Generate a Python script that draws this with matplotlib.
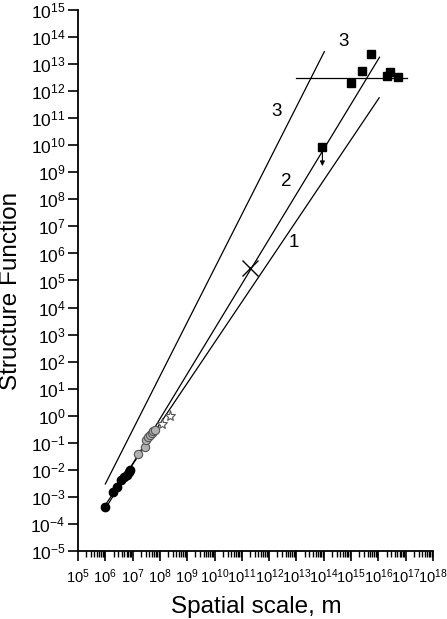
import numpy as np
import matplotlib
matplotlib.use("Agg")
import matplotlib.pyplot as plt
from matplotlib.ticker import LogLocator, NullLocator

plt.rcParams['font.family'] = ['Liberation Sans', 'DejaVu Sans']
plt.rcParams['mathtext.fontset'] = 'custom'
plt.rcParams['mathtext.rm'] = 'Liberation Sans'
plt.rcParams['mathtext.default'] = 'regular'

# data
black_x = [1.0e6, 1.95e6, 2.75e6, 3.6e6, 4.8e6, 6.0e6, 7.4e6, 8.2e6]
black_y = [4.2e-4, 1.5e-3, 2.4e-3, 4.3e-3, 5.6e-3, 6.6e-3, 8.0e-3, 9.5e-3]

grey_x = [1.6e7, 2.8e7, 3.2e7, 3.8e7, 4.3e7, 5.0e7, 5.8e7, 6.6e7]
grey_y = [0.039, 0.072, 0.13, 0.17, 0.2, 0.23, 0.27, 0.3]

star_x = [1.2e8, 2.3e8]
star_y = [0.49, 0.95]

square_x = [8.9e13, 1.02e15, 2.6e15, 5.2e15, 2.1e16, 2.7e16, 5.2e16]
square_y = [9.0e9, 1.95e12, 5.8e12, 2.3e13, 3.6e12, 5.3e12, 3.3e12]

cross_x = [2.0e11]
cross_y = [2.8e5]

# straight lines (end points)
line1_x = [1.0e6, 1.07e16]
line1_y = [5.0e-4, 5.7e11]
line2_x = [1.0e6, 1.1e16]
line2_y = [3.6e-4, 1.8e13]
line3_x = [1.0e6, 1.05e14]
line3_y = [3.0e-3, 2.9e13]
hline_x = [1.0e13, 1.1e17]
hline_y = [3.2e12, 3.2e12]

# curve labels
label_txt = ["3", "3", "2", "1"]
label_x = [5.2e14, 1.8e12, 4.1e12, 7.8e12]
label_y = [6.8e13, 1.7e11, 4.5e8, 2.6e6]

fig = plt.figure(figsize=(4.47, 6.19), dpi=100)
ax = fig.add_axes([0.1745, 0.1099, 0.7942, 0.8739])

ax.plot(line1_x, line1_y, color="black", linewidth=0.9)
ax.plot(line2_x, line2_y, color="black", linewidth=0.9)
ax.plot(line3_x, line3_y, color="black", linewidth=0.9)
ax.plot(hline_x, hline_y, color="black", linewidth=0.9)

ax.plot(black_x, black_y, "o", color="black", markersize=6)
ax.plot(grey_x, grey_y, "o", markerfacecolor="#b0b0b0", markeredgecolor="#555555",
        markersize=6, markeredgewidth=0.8)
ax.plot(star_x, star_y, "*", markerfacecolor="white", markeredgecolor="#555555",
        markersize=8, markeredgewidth=0.8)
ax.plot(square_x, square_y, "s", color="black", markersize=5.5)
ax.plot(cross_x, cross_y, "x", color="black", markersize=11, markeredgewidth=1.0)

# upper limit arrow on the lone square
ax.annotate("", xy=(square_x[0], 1.7e9), xytext=(square_x[0], square_y[0]),
            arrowprops=dict(arrowstyle="-|>", color="black", lw=0.8,
                            mutation_scale=7, shrinkA=0, shrinkB=0))

for t, lx, ly in zip(label_txt, label_x, label_y):
    ax.text(lx, ly, t, fontsize=13.5, ha="center", va="center")

ax.set_xscale("log")
ax.set_yscale("log")
ax.set_xlim(1e5, 1e18)
ax.set_ylim(1e-5, 1e15)
ax.xaxis.set_major_locator(LogLocator(base=10, numticks=30))
ax.xaxis.set_minor_locator(LogLocator(base=10, subs=np.arange(2, 10), numticks=30))
ax.yaxis.set_major_locator(LogLocator(base=10, numticks=30))
ax.yaxis.set_minor_locator(NullLocator())

ax.spines["top"].set_visible(False)
ax.spines["right"].set_visible(False)
ax.spines["left"].set_linewidth(1.3)
ax.spines["bottom"].set_linewidth(1.3)
ax.tick_params(axis="both", which="major", direction="out", length=7, width=1.2)
ax.tick_params(axis="x", which="minor", direction="out", length=4, width=1.0)
ax.tick_params(axis="y", labelsize=12.5, pad=2)
ax.tick_params(axis="x", labelsize=10.5, pad=5)

fig.text(256 / 447, 1 - 613 / 619, "Spatial scale, m", fontsize=17.5,
         ha="center", va="baseline")
fig.text(11 / 447, 1 - 291 / 619, "Structure Function", fontsize=17.5,
         rotation=90, ha="center", va="center")

plt.savefig("out.png", dpi=100)
